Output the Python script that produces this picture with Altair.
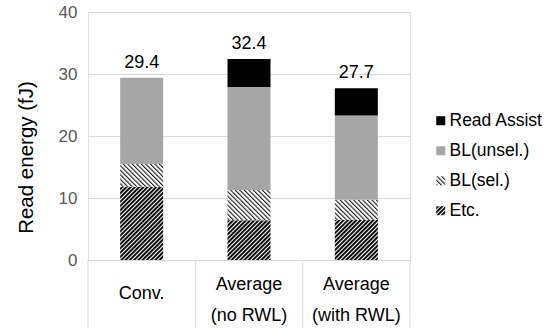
import altair as alt
import pandas as pd
import jinja2

# ---- data ----
categories = ["Conv.", "Average (no RWL)", "Average (with RWL)"]
etc_vals = [11.8, 6.4, 6.5]
bl_sel_vals = [3.7, 4.9, 3.2]
bl_unsel_vals = [13.9, 16.6, 13.6]
read_assist_vals = [0.0, 4.5, 4.4]
totals = [29.4, 32.4, 27.7]

series_names = ["Read Assist", "BL(unsel.)", "BL(sel.)", "Etc."]  # legend order
stack_order = {"Etc.": 0, "BL(sel.)": 1, "BL(unsel.)": 2, "Read Assist": 3}

rows = []
for i, c in enumerate(categories):
    for s, vals in [("Etc.", etc_vals), ("BL(sel.)", bl_sel_vals),
                    ("BL(unsel.)", bl_unsel_vals), ("Read Assist", read_assist_vals)]:
        rows.append({"cat": c, "series": s, "value": vals[i], "ord": stack_order[s]})
df = pd.DataFrame(rows)
tot_df = pd.DataFrame({"cat": categories, "total": totals})
last_df = pd.DataFrame({"cat": [categories[-1]]})

FONT = "Liberation Sans"
W, H = 322, 248

label_expr = ("indexof(datum.value, ' (') > 0 ? "
              "[slice(datum.value, 0, indexof(datum.value, ' (')), "
              "slice(datum.value, indexof(datum.value, ' (') + 1)] : datum.value")

x_enc = alt.X("cat:N", sort=categories,
              scale=alt.Scale(paddingInner=0, paddingOuter=0),
              axis=alt.Axis(title=None, ticks=False, labelAngle=0, labelFontSize=18,
                            labelColor="#000000", labelFont=FONT, labelPadding=24,
                            labelBaseline={"condition": {"test": "indexof(datum.value, ' (') < 0",
                                                         "value": "top"},
                                           "value": "middle"},
                            labelLineHeight=31,
                            domainColor="#d9d9d9", labelExpr=label_expr))

bars = alt.Chart(df).mark_bar(size=43, stroke="black").encode(
    x=x_enc,
    y=alt.Y("value:Q", stack="zero",
            scale=alt.Scale(domain=[0, 40]),
            axis=alt.Axis(title="Read energy (fJ)", values=[0, 10, 20, 30, 40],
                          domain=False, ticks=False, gridColor="#d9d9d9",
                          labelColor="#595959", labelFontSize=17, labelFont=FONT,
                          labelPadding=11, titleFont=FONT, titleFontSize=20.5,
                          titleFontWeight="normal", titleColor="#000000",
                          titleX=-52, titleY=145)),
    fill=alt.Fill("series:N",
                  scale=alt.Scale(domain=series_names,
                                  range=["#000000", "#a6a6a6", "url(#hatchSel)", "url(#hatchEtc)"]),
                  legend=alt.Legend(title=None, orient="none", legendX=344, legendY=100,
                                    symbolType="square", symbolSize=81,
                                    symbolStrokeColor="black", symbolStrokeWidth=0.8,
                                    labelFontSize=17.5, labelFont=FONT, labelColor="#000000",
                                    rowPadding=11, labelOffset=0, padding=0)),
    strokeWidth=alt.StrokeWidth("series:N",
                                scale=alt.Scale(domain=series_names, range=[0, 0, 1, 1]),
                                legend=None),
    order=alt.Order("ord:Q"),
)

labels = alt.Chart(tot_df).mark_text(dy=-6, baseline="bottom", fontSize=18,
                                     font=FONT, color="#000000").encode(
    x=alt.X("cat:N", sort=categories),
    y=alt.Y("total:Q"),
    text=alt.Text("total:Q", format=".1f"),
)

sep_left = alt.Chart(tot_df).mark_rule(color="#d9d9d9", strokeWidth=1).encode(
    x=alt.X("cat:N", sort=categories, bandPosition=0),
    y=alt.value(H), y2=alt.value(H + 68),
)
sep_right = alt.Chart(last_df).mark_rule(color="#d9d9d9", strokeWidth=1).encode(
    x=alt.X("cat:N", sort=categories, bandPosition=1),
    y=alt.value(H), y2=alt.value(H + 68),
)

chart = alt.layer(bars, labels, sep_left, sep_right).properties(
    width=W, height=H,
    autosize=alt.AutoSizeParams(type="none"),
    padding={"left": 88, "top": 12, "right": 144, "bottom": 68},
).configure_view(stroke=None).configure(background="white")

# SVG hatch patterns referenced by the fills above
defs = """<svg width="0" height="0" style="position:absolute" aria-hidden="true"><defs>
<pattern id="hatchEtc" patternUnits="userSpaceOnUse" width="3" height="3" patternTransform="rotate(45)">
<rect width="3" height="3" fill="white"/><rect width="1.9" height="3" fill="black"/></pattern>
<pattern id="hatchSel" patternUnits="userSpaceOnUse" width="3.2" height="3.2" patternTransform="rotate(-45)">
<rect width="3.2" height="3.2" fill="white"/><rect width="1.1" height="3.2" fill="#1a1a1a"/></pattern>
</defs></svg>"""

emb = {"renderer": "svg", "actions": False}
html = chart.to_html(embed_options=emb)
if "<body>" in html:
    html = html.replace("<body>", "<body>\n" + defs, 1)
else:
    html = defs + html
html = html.replace("<style>", "<style>\n    body { margin: 0; }", 1)
template = jinja2.Template("{% raw %}" + html + "{% endraw %}")

chart.save("out.html", embed_options=emb, template=template)
